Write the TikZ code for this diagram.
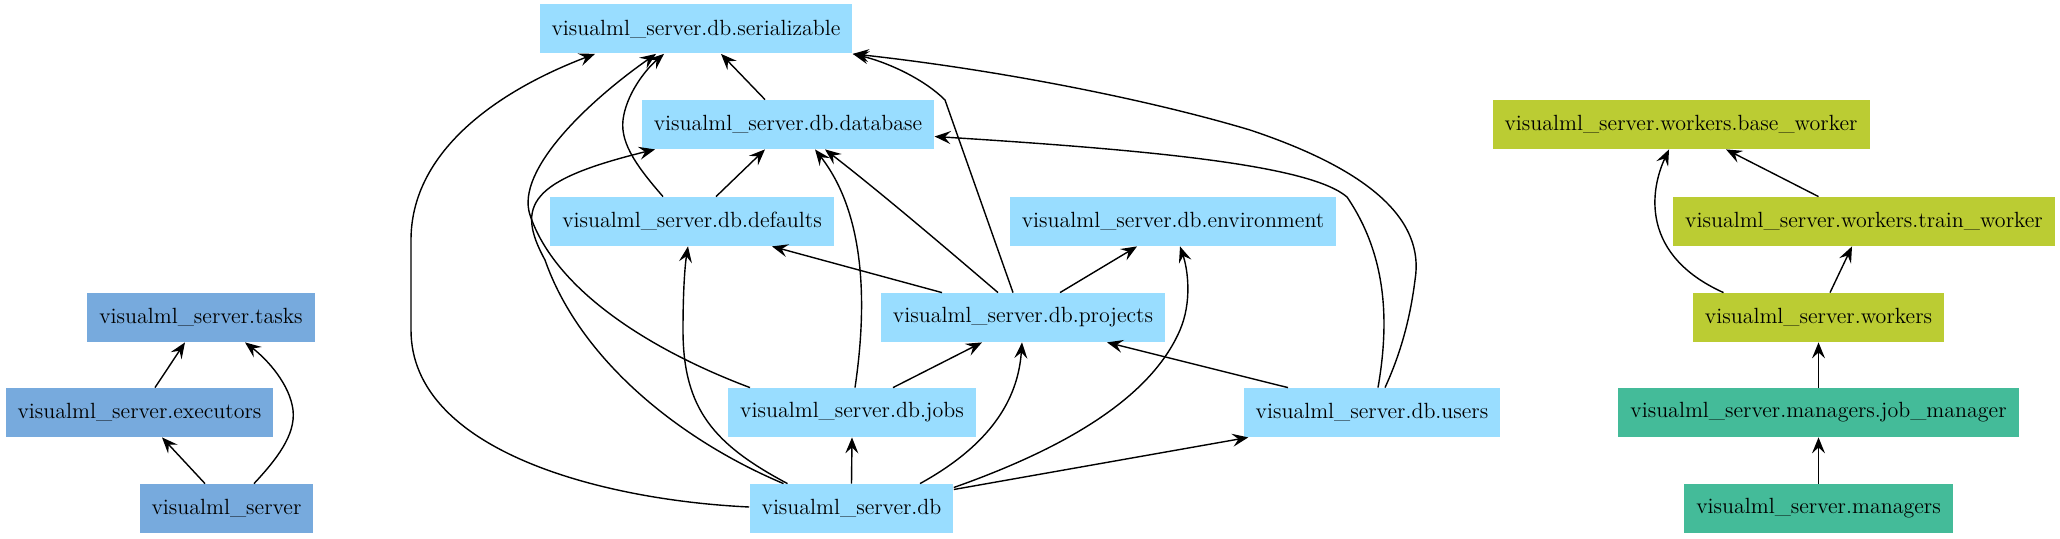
\documentclass[tikz,border=0pt]{standalone}
\usepackage{fontspec}
\usetikzlibrary{arrows.meta,calc}
\definecolor{cLB}{HTML}{77AADD}
\definecolor{cCY}{HTML}{99DDFF}
\definecolor{cPE}{HTML}{BBCC33}
\definecolor{cMI}{HTML}{44BB99}
\begin{document}
\begin{tikzpicture}[x=0.5pt,y=-0.5pt,
  mod/.style={rectangle, inner xsep=6pt, inner ysep=0pt, minimum height=24.5pt,
    font=\fontsize{11}{13}\selectfont, text=black},
  lbbox/.style={mod, fill=cLB},
  cybox/.style={mod, fill=cCY},
  pebox/.style={mod, fill=cPE},
  mibox/.style={mod, fill=cMI},
  edge/.style={draw=black, line width=0.7pt, -{Stealth[length=8pt,width=6.5pt,inset=3pt]}}]
\useasboundingbox (0,0) rectangle (2060,539);
% left group
\node[lbbox] (tasks) at (201,317.5) {visualml\_server.tasks};
\node[lbbox] (executors) at (139.5,412.5) {visualml\_server.executors};
\node[lbbox] (server) at (226.5,508.5) {visualml\_server};
% db group
\node[cybox] (serializable) at (696,29) {visualml\_server.db.serializable};
\node[cybox] (database) at (788,124.5) {visualml\_server.db.database};
\node[cybox] (defaults) at (692,221.5) {visualml\_server.db.defaults};
\node[cybox] (environment) at (1173,221.5) {visualml\_server.db.environment};
\node[cybox] (projects) at (1023,317.5) {visualml\_server.db.projects};
\node[cybox] (jobs) at (852,412.5) {visualml\_server.db.jobs};
\node[cybox] (users) at (1372,412.5) {visualml\_server.db.users};
\node[cybox] (db) at (851.5,508.5) {visualml\_server.db};
% workers / managers
\node[pebox] (baseworker) at (1681,124.5) {visualml\_server.workers.base\_worker};
\node[pebox] (trainworker) at (1864,221.5) {visualml\_server.workers.train\_worker};
\node[pebox] (workers) at (1818.5,317.5) {visualml\_server.workers};
\node[mibox] (jobmanager) at (1818.5,412.5) {visualml\_server.managers.job\_manager};
\node[mibox] (managers) at (1818.5,508.5) {visualml\_server.managers};

% left group edges
\draw[edge] ($(executors.north)+(15.5,0)$) -- ($(tasks.south)+(-16,0)$);
\draw[edge] ($(server.north)+(-21.5,0)$) -- ($(executors.south)+(22.5,0)$);
\draw[edge] ($(server.north)+(27.5,0)$) .. controls (276,460) and (296,435) .. (293,410)
  .. controls (290,385) and (268,360) .. ($(tasks.south)+(44,0)$);

% db group edges
\draw[edge] ($(database.north)+(-23,0)$) -- ($(serializable.south)+(25,0)$);
\draw[edge] ($(defaults.north)+(24,0)$) -- ($(database.south)+(-23,0)$);
\draw[edge] ($(defaults.north)+(-29,0)$) .. controls (640,170) and (620,145) .. (623,120)
  .. controls (626,95) and (645,70) .. ($(serializable.south)+(-32,0)$);
\draw[edge] ($(db.west)+(0,-1.5)$) .. controls (600,500) and (411,450) .. (411,330)
  -- (411,240) .. controls (411,150) and (500,90) .. ($(serializable.south)+(-101,0)$);
\draw[edge] ($(db.north)+(-68,0)$) .. controls (680,440) and (580,360) .. (545,260)
  .. controls (515,205) and (530,180) .. ($(database.south)+(-133,0)$);
\draw[edge] ($(jobs.north)+(-102,0)$) .. controls (650,350) and (555,290) .. (530,215)
  .. controls (515,170) and (590,100) .. ($(serializable.south)+(-40,0)$);
\draw[edge] ($(db.north)+(-64,0)$) .. controls (715,445) and (683,410) .. (683,330)
  .. controls (683,290) and (685,265) .. ($(defaults.south)+(-4,0)$);
\draw[edge] ($(jobs.north)+(3,0)$) .. controls (865,320) and (870,220) .. ($(database.south)+(27,0)$);
\draw[edge] ($(projects.north)+(-25,0)$) .. controls (940,243) and (880,192) .. ($(database.south)+(37,0)$);
\draw[edge] ($(projects.north)+(-10,0)$) -- (945,100) .. controls (925,80) and (890,63) .. (serializable.south east);
\draw[edge] ($(projects.north)+(-81,0)$) -- ($(defaults.south)+(80,0)$);
\draw[edge] ($(projects.north)+(37,0)$) -- ($(environment.south)+(-36,0)$);
\draw[edge] ($(jobs.north)+(41,0)$) -- ($(projects.south)+(-41,0)$);
\draw[edge] (db.north) -- (jobs.south);
\draw[edge] ($(db.north)+(68.5,0)$) .. controls (990,445) and (1018,400) .. ($(projects.south)+(-1,0)$);
\draw[edge] ($(db.east)+(0,-21)$) .. controls (1060,450) and (1150,400) .. (1180,330)
  .. controls (1192,302) and (1188,270) .. ($(environment.south)+(7,0)$);
\draw[edge] ($(db.east)+(0,-19)$) -- ($(users.south west)+(5,0)$);
\draw[edge] ($(users.north)+(-84,0)$) -- ($(projects.south)+(84,0)$);
\draw[edge] ($(users.north)+(6,0)$) .. controls (1388,330) and (1390,260) .. (1347,197)
  .. controls (1310,165) and (1150,150) .. ($(database.east)+(0,12)$);
\draw[edge] ($(users.north)+(13,0)$) .. controls (1400,355) and (1410,320) .. (1415,280)
  .. controls (1425,220) and (1370,170) .. (1250,130)
  .. controls (1150,100) and (1000,70) .. (serializable.south east);

% workers / managers edges
\draw[edge] ($(workers.north)+(-95,0)$) .. controls (1640,255) and (1650,190) .. ($(baseworker.south)+(-12,0)$);
\draw[edge] ($(trainworker.north)+(-45.5,0)$) -- ($(baseworker.south)+(45,0)$);
\draw[edge] ($(workers.north)+(11.5,0)$) -- ($(trainworker.south)+(-12,0)$);
\draw[edge] (jobmanager.north) -- (workers.south);
\draw[edge] (managers.north) -- (jobmanager.south);
\end{tikzpicture}
\end{document}
